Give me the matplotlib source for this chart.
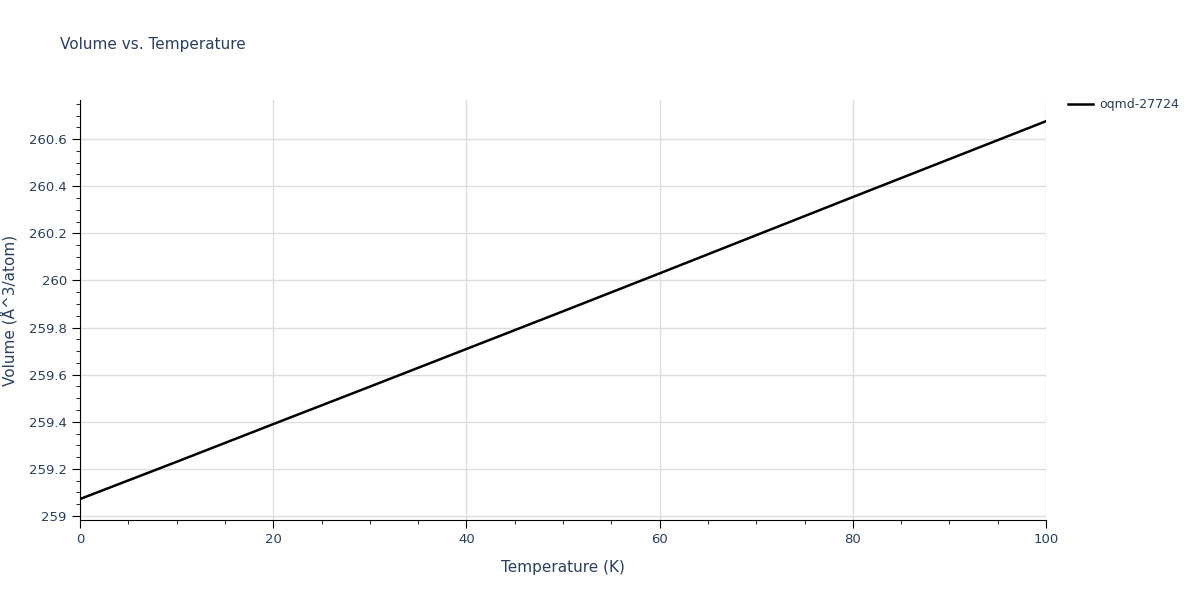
import matplotlib
matplotlib.use("Agg")
import matplotlib.pyplot as plt
from matplotlib.ticker import MultipleLocator, FuncFormatter

temperature = [0, 10, 20, 30, 40, 50, 60, 70, 80, 90, 100]
volume = [259.072, 259.230, 259.390, 259.549, 259.709, 259.869, 260.030, 260.192, 260.354, 260.515, 260.676]
series_name = "oqmd-27724"

fig = plt.figure(figsize=(12, 6), dpi=100)
ax = fig.add_axes([80/1200, 80/600, 966/1200, 420/600])
ax.plot(temperature, volume, color="black", lw=1.8, label=series_name)
ax.set_xlim(0, 100)
ax.set_ylim(258.983, 260.766)
ax.xaxis.set_major_locator(MultipleLocator(20))
ax.xaxis.set_minor_locator(MultipleLocator(5))
ax.yaxis.set_major_locator(MultipleLocator(0.2))
ax.yaxis.set_minor_locator(MultipleLocator(0.05))
ax.yaxis.set_major_formatter(FuncFormatter(lambda v, p: f"{v:.1f}".rstrip("0").rstrip(".")))
ax.grid(True, which="major", color="#dddddd", lw=1)
for s in ["top", "right"]:
    ax.spines[s].set_visible(False)
for s in ["left", "bottom"]:
    ax.spines[s].set_color("black")
tc = "#2a3f5f"
ax.tick_params(which="both", direction="out", colors="black", labelcolor=tc, labelsize=9.5)
ax.tick_params(which="major", length=6)
ax.tick_params(which="minor", length=3)
ax.set_xlabel("Temperature (K)", color=tc, fontsize=11, labelpad=10)
ax.set_ylabel("Volume (Å^3/atom)", color=tc, fontsize=11, labelpad=8)
fig.text(60/1200, 1-45/600, "Volume vs. Temperature", color=tc, fontsize=11, va="center")
ax.legend(loc="upper left", bbox_to_anchor=(1.02, 1.01), frameon=False, fontsize=9,
          labelcolor=tc, handlelength=2.0, handletextpad=0.5, borderaxespad=0, borderpad=0.2)
fig.savefig("out.png", dpi=100)
